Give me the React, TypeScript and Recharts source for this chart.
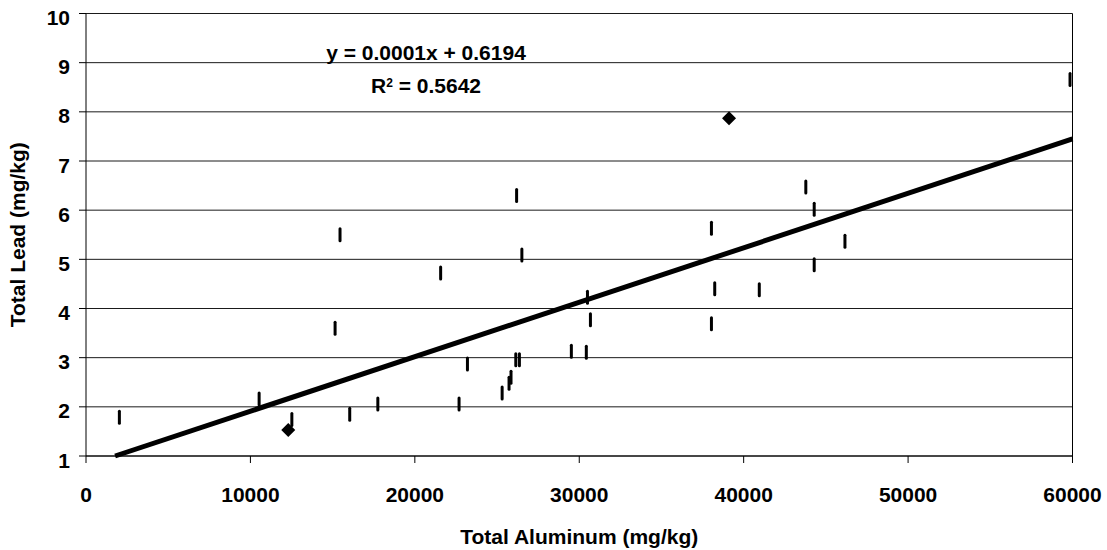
import { ScatterChart, Scatter, XAxis, YAxis, CartesianGrid, ReferenceLine, Customized } from "recharts";

const FONT = "'Liberation Sans', Arial, sans-serif";

// total aluminum (mg/kg) vs total lead (mg/kg)
const aluminum = [
  2030, 10530, 12520, 16040, 17750, 22690, 26190, 15450, 26510, 21570,
  30500, 30680, 15150, 23200, 26140, 26360, 29520, 30430, 25850, 25730,
  25310, 43780, 44290, 38040, 46160, 44290, 38240, 40950, 38040, 59850,
];
const lead = [
  1.79, 2.16, 1.74, 1.85, 2.06, 2.06, 6.3, 5.5, 5.09, 4.72,
  4.23, 3.77, 3.6, 2.87, 2.96, 2.96, 3.13, 3.11, 2.6, 2.48,
  2.28, 6.47, 6.02, 5.63, 5.37, 4.89, 4.4, 4.38, 3.69, 8.66,
];

// highlighted samples (diamond markers)
const flaggedAluminum = [12300, 39110];
const flaggedLead = [1.53, 7.87];

// linear trendline end points as drawn
const trendAluminum = [1770, 60000];
const trendLead = [1, 7.45];

const xTicks = [0, 10000, 20000, 30000, 40000, 50000, 60000];
const yTicks = [1, 2, 3, 4, 5, 6, 7, 8, 9, 10];

const samples = aluminum.map((x, i) => ({ x, y: lead[i] }));
const flagged = flaggedAluminum.map((x, i) => ({ x, y: flaggedLead[i] }));

const Dash = (props: any) => {
  const { cx, cy } = props;
  return <rect x={cx - 1.5} y={cy - 7.5} width={3} height={15} rx={1.5} fill="#000" />;
};

const Diamond = (props: any) => {
  const { cx, cy } = props;
  const r = 7;
  return <polygon points={`${cx},${cy - r} ${cx + r},${cy} ${cx},${cy + r} ${cx - r},${cy}`} fill="#000" />;
};

const YTick = (props: any) => {
  const { x, y, payload } = props;
  return (
    <text x={x} y={y + 11.5} textAnchor="end" fontFamily={FONT} fontWeight="bold" fontSize={21} fill="#000">
      {payload.value}
    </text>
  );
};

const Equation = () => (
  <g fontFamily={FONT} fontWeight="bold" fill="#000">
    <text x={426} y={59.5} textAnchor="middle" fontSize={21}>
      y = 0.0001x + 0.6194
    </text>
    <text x={371} y={93.3} fontSize={21}>
      R<tspan dy={-6} fontSize={12}>2</tspan>
      <tspan dy={6} fontSize={21}> = 0.5642</tspan>
    </text>
  </g>
);

export default function App() {
  return (
    <div style={{ position: "absolute", left: 0, top: 0, background: "#fff" }}>
      <ScatterChart width={1107} height={550} margin={{ top: 13.5, right: 34.5, left: 0, bottom: 0 }}>
        <CartesianGrid horizontal vertical={false} stroke="#1a1a1a" strokeWidth={1} />
        <XAxis
          type="number"
          dataKey="x"
          domain={[0, 60000]}
          ticks={xTicks}
          allowDataOverflow
          height={94}
          tickSize={7}
          tickMargin={24}
          axisLine={{ stroke: "#000" }}
          tickLine={{ stroke: "#000" }}
          tick={{ fontFamily: FONT, fontWeight: "bold", fontSize: 21, fill: "#000" }}
          label={{
            content: (p: any) => {
              const vb = p.viewBox;
              return (
                <text x={vb.x + vb.width / 2} y={vb.y + 88} textAnchor="middle" fontFamily={FONT} fontWeight="bold" fontSize={21} fill="#000">
                  Total Aluminum (mg/kg)
                </text>
              );
            },
          }}
        />
        <YAxis
          type="number"
          dataKey="y"
          domain={[1, 10]}
          ticks={yTicks}
          allowDataOverflow
          width={86}
          tickSize={7}
          tickMargin={9}
          axisLine={{ stroke: "#000" }}
          tickLine={{ stroke: "#000" }}
          tick={<YTick />}
          label={{
            content: (p: any) => {
              const vb = p.viewBox;
              const cy = vb.y + vb.height / 2;
              return (
                <text x={25} y={cy} transform={`rotate(-90, 25, ${cy})`} textAnchor="middle" fontFamily={FONT} fontWeight="bold" fontSize={21} fill="#000">
                  Total Lead (mg/kg)
                </text>
              );
            },
          }}
        />
        <ReferenceLine x={60000} stroke="#000" strokeWidth={1} />
        <ReferenceLine
          segment={[
            { x: trendAluminum[0], y: trendLead[0] },
            { x: trendAluminum[1], y: trendLead[1] },
          ]}
          stroke="#000"
          strokeWidth={5}
        />
        <Scatter name="Samples" data={samples} shape={<Dash />} isAnimationActive={false} />
        <Scatter name="Flagged" data={flagged} shape={<Diamond />} isAnimationActive={false} />
        <Customized component={<Equation />} />
      </ScatterChart>
    </div>
  );
}
